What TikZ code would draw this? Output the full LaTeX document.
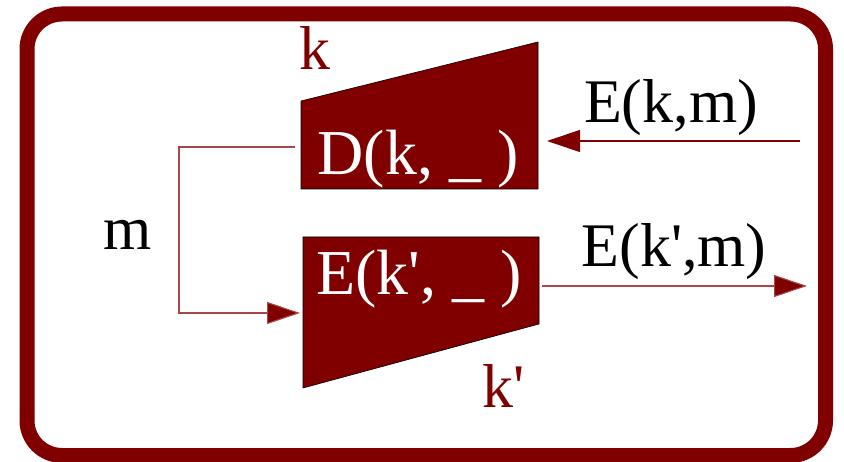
\documentclass[tikz,border=0pt]{standalone}
\usepackage{fontspec}
\setmainfont{Liberation Serif}
\usetikzlibrary{arrows.meta}
\definecolor{keyred}{RGB}{128,0,0}
\definecolor{wirered}{RGB}{170,70,70}
\newcommand{\pr}{\textquotesingle}

\begin{document}
\begin{tikzpicture}[x=1pt,y=-1pt,
    lbl/.style={font=\fontsize{62}{70}\selectfont,inner sep=0pt,anchor=base},
    inlbl/.style={lbl,white,font=\fontsize{64}{72}\selectfont},
    box/.style={fill=keyred,draw=black,line width=0.6pt},
    wire/.style={wirered,line width=1.1pt},
    tip/.style={-{Triangle[length=33pt,width=22pt,fill=keyred]},
                keyred}]
    \useasboundingbox (0,0) rectangle (844,462);
    % moldura
    \draw[keyred,line width=15pt,rounded corners=35pt] (27,14) rectangle (825.5,455.5);
    % caixas (decifra em cima, cifra embaixo)
    \filldraw[box] (301,101) -- (538,42) -- (538,189) -- (301,189) -- cycle;
    \filldraw[box] (303,237) -- (539,237) -- (539,324) -- (303,388) -- cycle;
    \node[inlbl] (dec) at (418,175) {D(k, \_ )};
    \node[inlbl] (enc) at (419,295) {E(k\pr, \_ )};
    \node[lbl,keyred] (k) at (315,70) {k};
    \node[lbl,keyred] (kp) at (504,408) {k\pr};
    % entradas e saidas
    \coordinate (decW) at (295,147);
    \coordinate (decE) at (547,141);
    \coordinate (encW) at (300,313);
    \coordinate (encE) at (542,286);
    \coordinate (cin) at (800,141);
    \coordinate (cout) at (807,286);
    \node[lbl] (ckm) at (671,123) {E(k,m)};
    \node[lbl] (ckpm) at (674,267) {E(k\pr,m)};
    \node[lbl] (msg) at (128,250) {m};
    \draw[wire,tip,draw=keyred] (cin) -- (decE);
    \draw[wire,tip,draw=wirered] (encE) -- (cout);
    \draw[wire,tip,draw=wirered] (decW) -| (179,313) -- (encW);
\end{tikzpicture}
\end{document}
